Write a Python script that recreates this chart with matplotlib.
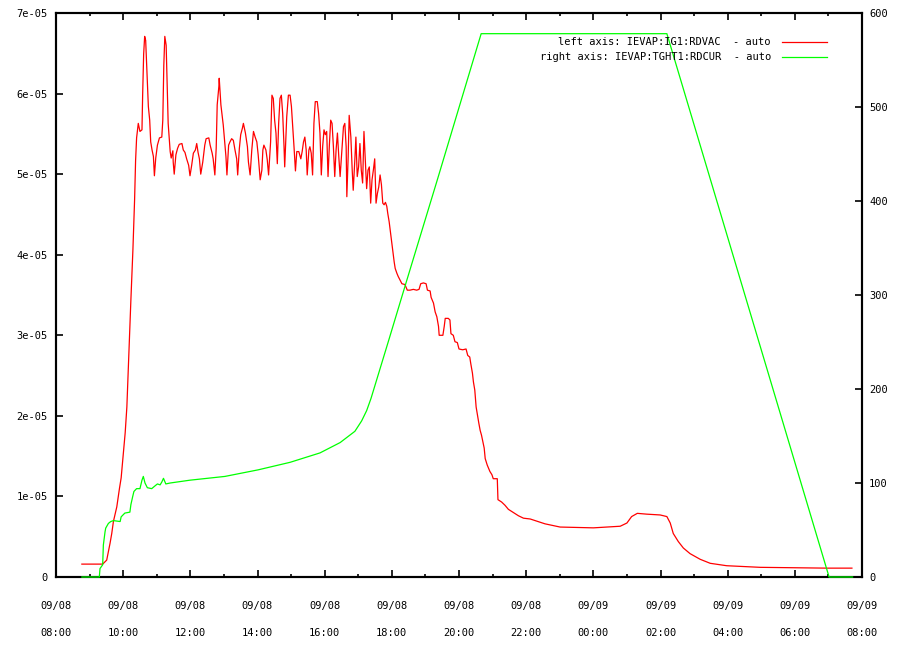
import pandas as pd
import numpy as np
import matplotlib
matplotlib.use('Agg')
import matplotlib.pyplot as plt
import matplotlib.dates as mdates
from matplotlib.ticker import MultipleLocator, FuncFormatter

# 起点 09/08 08:00，时间以小时计
t0 = pd.Timestamp('2000-09-08 08:00')

# 左轴: IEVAP:IG1:RDVAC (单位 1e-05)
vac_hours = [0.77, 1.39, 1.51, 1.61, 1.66, 1.71, 1.81, 1.89, 1.94, 1.97, 2.00, 2.06, 2.11,
             2.14, 2.23, 2.29, 2.34, 2.37, 2.40, 2.45, 2.50, 2.56, 2.58, 2.61, 2.64, 2.67, 2.70,
             2.75, 2.79, 2.82, 2.86, 2.90, 2.93, 2.97, 3.02, 3.08, 3.15, 3.18, 3.21, 3.24, 3.28,
             3.31, 3.34, 3.37, 3.40, 3.43, 3.48, 3.49, 3.52, 3.57, 3.62, 3.67, 3.75, 3.79, 3.84,
             3.89, 3.95, 3.99, 4.04, 4.09, 4.15, 4.19, 4.23, 4.27, 4.31, 4.37, 4.43, 4.47, 4.55,
             4.59, 4.65, 4.68, 4.73, 4.77, 4.80, 4.85, 4.86, 4.91, 4.94, 4.98, 5.02, 5.06, 5.09,
             5.14, 5.18, 5.23, 5.28, 5.33, 5.38, 5.41, 5.46, 5.50, 5.55, 5.58, 5.64, 5.70, 5.73,
             5.78, 5.83, 5.88, 5.93, 5.98, 6.02, 6.08, 6.13, 6.16, 6.19, 6.25, 6.29, 6.33, 6.39,
             6.43, 6.47, 6.51, 6.55, 6.59, 6.63, 6.67, 6.71, 6.75, 6.79, 6.81, 6.87, 6.92, 6.97,
             7.01, 7.05, 7.09, 7.13, 7.17, 7.23, 7.29, 7.33, 7.37, 7.41, 7.45, 7.48, 7.53, 7.56,
             7.60, 7.64, 7.68, 7.72, 7.78, 7.82, 7.86, 7.90, 7.94, 7.98, 8.02, 8.06, 8.10, 8.14,
             8.18, 8.22, 8.26, 8.30, 8.34, 8.38, 8.42, 8.46, 8.52, 8.56, 8.60, 8.64, 8.66, 8.70,
             8.73, 8.78, 8.82, 8.85, 8.90, 8.93, 8.97, 9.01, 9.05, 9.09, 9.13, 9.17, 9.21, 9.25,
             9.29, 9.33, 9.37, 9.41, 9.45, 9.49, 9.53, 9.57, 9.61, 9.65, 9.69, 9.73, 9.77, 9.81,
             9.85, 9.88, 9.92, 9.95, 9.98, 10.01, 10.04, 10.07, 10.10, 10.15, 10.19, 10.24, 10.30,
             10.39, 10.46, 10.54, 10.64, 10.74, 10.81, 10.86, 10.94, 11.02, 11.06, 11.14, 11.17,
             11.24, 11.29, 11.34, 11.39, 11.41, 11.52, 11.56, 11.59, 11.68, 11.73, 11.76, 11.83,
             11.88, 11.95, 12.00, 12.11, 12.21, 12.26, 12.32, 12.35, 12.40, 12.43, 12.47, 12.51,
             12.55, 12.59, 12.63, 12.67, 12.71, 12.75, 12.78, 12.84, 12.92, 12.98, 13.02, 13.14,
             13.16, 13.27, 13.37, 13.47, 13.62, 13.77, 13.92, 14.12, 14.56, 15.01, 16.00, 16.80,
             17.00, 17.14, 17.31, 17.59, 17.99, 18.19, 18.29, 18.38, 18.53, 18.68, 18.88, 19.18,
             19.48, 19.97, 20.97, 21.96, 22.95, 23.70]
vac_e5 = [0.16, 0.16, 0.21, 0.42, 0.54, 0.69, 0.87, 1.10, 1.23, 1.37, 1.52, 1.79, 2.11,
          2.45, 3.44, 4.06, 4.68, 5.17, 5.45, 5.63, 5.53, 5.55, 5.98, 6.49, 6.71, 6.66, 6.35,
          5.84, 5.67, 5.40, 5.30, 5.22, 4.98, 5.20, 5.36, 5.45, 5.46, 5.67, 6.35, 6.71, 6.60,
          6.09, 5.63, 5.45, 5.28, 5.20, 5.29, 5.15, 5.00, 5.24, 5.32, 5.37, 5.38, 5.30, 5.27,
          5.19, 5.11, 4.98, 5.11, 5.26, 5.30, 5.38, 5.27, 5.19, 5.00, 5.15, 5.36, 5.44, 5.45,
          5.36, 5.26, 5.19, 4.99, 5.32, 5.86, 6.09, 6.19, 5.86, 5.75, 5.61, 5.42, 5.22, 4.99,
          5.36, 5.40, 5.44, 5.42, 5.30, 5.19, 4.99, 5.32, 5.49, 5.57, 5.63, 5.51, 5.34, 5.15,
          4.99, 5.30, 5.53, 5.46, 5.40, 5.24, 4.93, 5.05, 5.30, 5.36, 5.30, 5.18, 4.99, 5.40,
          5.98, 5.94, 5.67, 5.51, 5.13, 5.63, 5.94, 5.98, 5.75, 5.34, 5.09, 5.71, 5.98, 5.98,
          5.84, 5.59, 5.32, 5.04, 5.28, 5.28, 5.19, 5.28, 5.40, 5.46, 5.30, 4.99, 5.30, 5.34,
          5.26, 4.99, 5.63, 5.90, 5.90, 5.75, 5.51, 4.99, 5.34, 5.55, 5.49, 5.53, 4.97, 5.36,
          5.67, 5.63, 5.34, 4.97, 5.30, 5.51, 5.22, 4.97, 5.34, 5.59, 5.63, 5.34, 4.72, 5.22,
          5.73, 5.46, 5.05, 4.80, 5.19, 5.46, 4.97, 5.09, 5.38, 5.05, 4.89, 5.53, 5.18, 4.82,
          5.05, 5.09, 4.64, 4.93, 5.05, 5.19, 4.64, 4.76, 4.84, 4.99, 4.87, 4.64, 4.62, 4.65,
          4.60, 4.51, 4.41, 4.31, 4.22, 4.10, 4.00, 3.91, 3.83, 3.77, 3.73, 3.69, 3.64,
          3.63, 3.56, 3.56, 3.57, 3.56, 3.57, 3.64, 3.65, 3.64, 3.56, 3.55, 3.47,
          3.40, 3.29, 3.23, 3.11, 3.00, 3.00, 3.11, 3.21, 3.21, 3.19, 3.02, 3.00,
          2.92, 2.91, 2.83, 2.82, 2.83, 2.75, 2.73, 2.65, 2.53, 2.42, 2.32, 2.11,
          2.01, 1.91, 1.82, 1.76, 1.68, 1.60, 1.47, 1.39, 1.31, 1.27, 1.22, 1.22,
          0.96, 0.93, 0.89, 0.84, 0.80, 0.76, 0.73, 0.72, 0.66, 0.62, 0.61, 0.63,
          0.67, 0.75, 0.79, 0.78, 0.77, 0.75, 0.67, 0.54, 0.44, 0.36, 0.29, 0.22,
          0.17, 0.14, 0.12, 0.115, 0.11, 0.11]

# 右轴: IEVAP:TGHT1:RDCUR
cur_hours = [0.77, 1.29, 1.31, 1.39, 1.41, 1.46, 1.48, 1.56, 1.63, 1.71, 1.91, 1.94, 2.05,
             2.20, 2.23, 2.28, 2.32, 2.40, 2.50, 2.56, 2.60, 2.65, 2.72, 2.85, 2.95, 3.02, 3.10,
             3.15, 3.20, 3.27, 3.40, 3.99, 5.03, 6.02, 6.97, 7.86, 8.46, 8.90, 9.10, 9.25, 9.38,
             9.90, 10.44, 11.35, 12.66, 18.19, 23.02, 23.72]
cur_vals = [0, 0, 9, 13, 34, 48, 52, 57, 59, 60, 59, 64, 68,
            69, 77, 85, 91, 94, 94, 103, 107, 100, 95, 94, 97, 99, 98,
            101, 105, 99, 100, 103, 107, 114, 122, 132, 143, 155, 166, 177, 190,
            251, 315, 422, 578, 578, 0, 0]

labels = ['left axis: IEVAP:IG1:RDVAC  - auto', 'right axis: IEVAP:TGHT1:RDCUR  - auto']

vac_t = t0 + pd.to_timedelta(vac_hours, unit='h')
cur_t = t0 + pd.to_timedelta(cur_hours, unit='h')

mono = 'DejaVu Sans Mono'
fs = 7.5

fig = plt.figure(figsize=(9.16, 6.63), dpi=100)
ax = fig.add_axes([56 / 916, 86 / 663, 806 / 916, 564 / 663])
ax2 = ax.twinx()

l1, = ax.plot(vac_t, np.array(vac_e5) * 1e-5, color='#ff0000', lw=0.9)
l2, = ax2.plot(cur_t, cur_vals, color='#00ff00', lw=0.9, clip_on=False, zorder=3)

ax.set_xlim(t0, t0 + pd.Timedelta(hours=24))
ax.set_ylim(0, 7e-5)
ax2.set_ylim(0, 600)

ax.xaxis.set_major_locator(mdates.HourLocator(interval=2))
ax.xaxis.set_minor_locator(mdates.HourLocator(interval=1))
ax.xaxis.set_major_formatter(mdates.DateFormatter('%m/%d\n%H:%M'))
ax.yaxis.set_major_locator(MultipleLocator(1e-5))
ax.yaxis.set_major_formatter(FuncFormatter(lambda v, p: '0' if abs(v) < 1e-12 else f'{v:.0e}'))
ax2.yaxis.set_major_locator(MultipleLocator(100))

for a in (ax, ax2):
    for s in a.spines.values():
        s.set_linewidth(1.5)
ax.tick_params(axis='x', which='major', direction='in', length=5, width=1.2, top=True,
               pad=17, labelsize=fs)
ax.tick_params(axis='x', which='minor', direction='in', length=2.5, width=1.2, top=True)
ax.tick_params(axis='y', direction='in', length=5, width=1.2, right=False, pad=6, labelsize=fs)
ax2.tick_params(axis='y', direction='in', length=5, width=1.2, pad=5, labelsize=fs)

for lab in ax.get_xticklabels() + ax.get_yticklabels() + ax2.get_yticklabels():
    lab.set_fontfamily(mono)
for lab in ax.get_xticklabels():
    lab.set_linespacing(3.15)

leg = ax2.legend([l1, l2], labels, loc='upper right', bbox_to_anchor=(0.9566, 0.957),
                 frameon=False, markerfirst=False, borderpad=0, borderaxespad=0,
                 handlelength=4.3, handletextpad=1.1, labelspacing=0.5,
                 prop={'family': mono, 'size': fs})

plt.savefig('out.png', dpi=100)
